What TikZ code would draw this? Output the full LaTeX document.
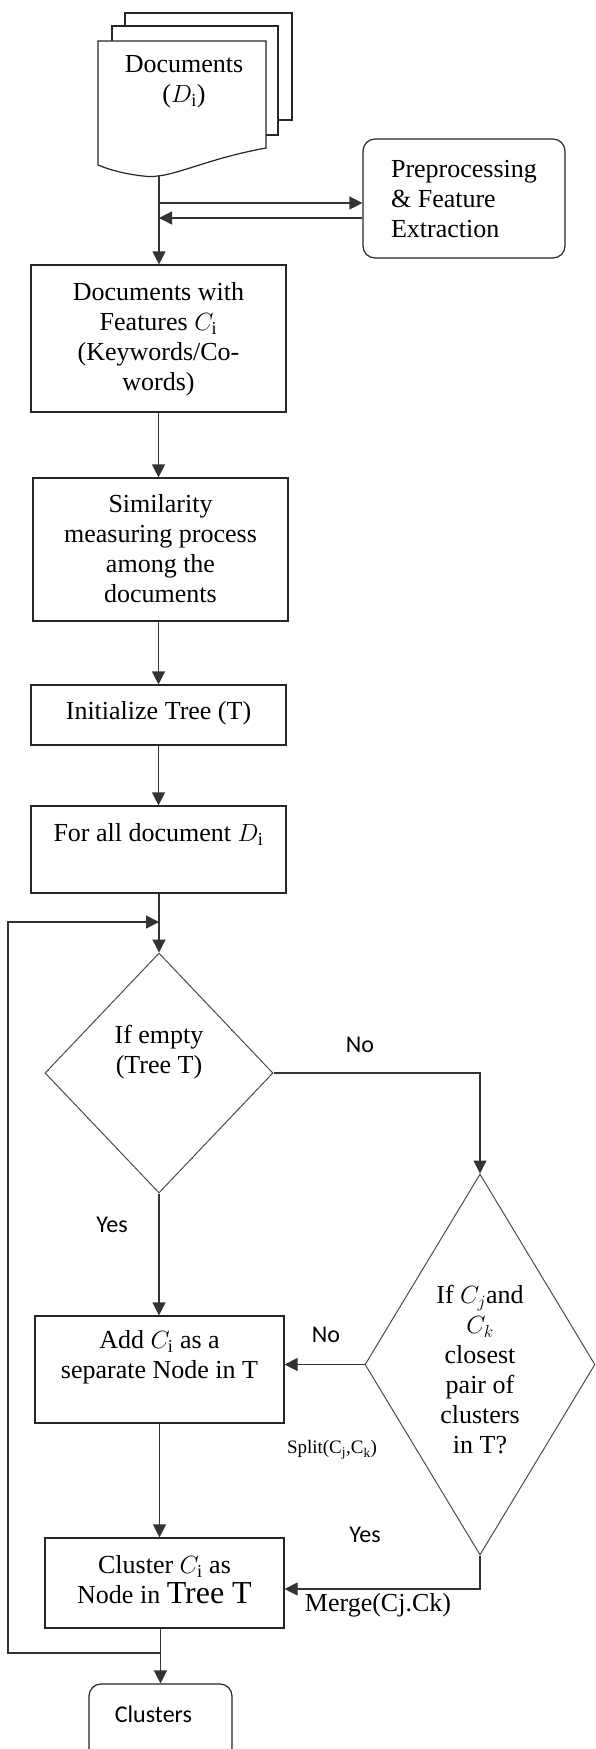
\documentclass[tikz,border=0pt]{standalone}
\usepackage{fontspec}
\setmainfont{Liberation Serif}
\newfontfamily\sansf{Carlito}
\usetikzlibrary{shapes.geometric,arrows.meta,calc}
% centred text block of zero size, lifted by #2
\newcommand{\ctext}[3][c]{\makebox[0pt]{\smash{\raisebox{#2}{\begin{tabular}{@{}#1@{}}#3\end{tabular}}}}}
\begin{document}
\begin{tikzpicture}[x=1pt,y=-1pt,
  every node/.style={font=\fontsize{26}{30}\selectfont},
  box/.style={draw=black!85, line width=1.2pt, rectangle, inner sep=0pt, fill=white},
  rbox/.style={box, rounded corners=12pt},
  dia/.style={draw=black!70, line width=1pt, diamond, inner sep=0pt},
  pg/.style={draw=black!85, line width=1.2pt, fill=white},
  arr/.style={draw=black!80, line width=1.2pt, -{Triangle[length=13pt,width=13pt]}},
  lbl/.style={font=\sansf\fontsize{24}{28}\selectfont, inner sep=0pt},
]
\fill[white] (0,0) rectangle (595,1749);
\useasboundingbox (0,0) rectangle (595,1749);

% document stack
\draw[pg] (125,13) rectangle (292,120);
\draw[pg] (112,26) rectangle (278,135);
\draw[pg] (98,41) -- (266,41) -- (266,148) .. controls (200,160) and (170,180) .. (143,176)
  .. controls (125,174) and (110,170) .. (98,165) -- cycle;
\node[inner sep=0pt] (docs) at (184,81) {\ctext{-6.5pt}{Documents\\($D_{\mathrm{i}}$)}};
\coordinate (dbot) at (159,175);

% boxes
\node[rbox, minimum width=202pt, minimum height=119pt] (prep) at (464,198.5)
  {\ctext[l]{-9.7pt}{Preprocessing\\\& Feature\\Extraction}};
\node[box, minimum width=255pt, minimum height=147pt] (box1) at (158.5,338.5)
  {\ctext{-7.2pt}{Documents with\\Features $C_{\mathrm{i}}$\\(Keywords/Co-\\words)}};
\node[box, minimum width=255pt, minimum height=143pt] (box2) at (160.5,549.5)
  {\ctext{-8pt}{Similarity\\measuring process\\among the\\documents}};
\node[box, minimum width=255pt, minimum height=60pt] (init) at (158.5,715)
  {\ctext{-4.5pt}{Initialize Tree (T)}};
\node[box, minimum width=255pt, minimum height=87pt] (forall) at (158.5,849.5)
  {\ctext{8pt}{For all document $D_{\mathrm{i}}$}};
\node[dia, minimum width=228pt, minimum height=240pt] (dec1) at (159,1073)
  {\ctext{14pt}{If empty\\(Tree T)}};
\node[dia, minimum width=230pt, minimum height=381pt] (dec2) at (480,1364.5)
  {\ctext{-14.5pt}{If $C_j$and\\$C_k$\\closest\\pair of\\clusters\\in T?}};
\node[box, minimum width=249pt, minimum height=107pt] (addbox) at (159.5,1369.5)
  {\ctext{5.5pt}{Add $C_{\mathrm{i}}$ as a\\separate Node in T}};
\node[box, minimum width=239pt, minimum height=90pt] (clusterbox) at (164.5,1583)
  {\ctext{-6pt}{Cluster $C_{\mathrm{i}}$ as\\Node in {\fontsize{32}{30}\selectfont Tree T}}};
\node[rbox, minimum width=143pt, minimum height=76pt, font=\sansf\fontsize{24}{28}\selectfont] (clusters) at (160.5,1722)
  {\ctext{-1pt}{\hspace*{-14pt}Clusters}};

% labels
\node[lbl] (no1) at (360,1045) {No};
\node[lbl] (yes1) at (112,1225) {Yes};
\node[lbl] (no2) at (326,1335) {No};
\node[lbl] (yes2) at (365,1535) {Yes};
\node[inner sep=0pt, font=\fontsize{19}{22}\selectfont] (split) at (332,1450) {Split(C\textsubscript{j},C\textsubscript{k})};
\node[inner sep=0pt] (merge) at (378,1605) {Merge(Cj.Ck)};

% connectors
\coordinate (j1) at (159,203);
\coordinate (j2) at (159,218);
\draw[arr] (dbot) -- (dbot |- box1.north);
\draw[arr] (j1) -- (j1 -| prep.west);
\draw[arr] (j2 -| prep.west) -- (j2);
\draw[arr] (box1.south) -- (box1.south |- box2.north);
\draw[arr] (init.north |- box2.south) -- (init.north);
\draw[arr] (init.south) -- (forall.north);
\draw[arr] (dec1.north |- forall.south) -- (dec1.north);
\coordinate (lj) at (159,922);
\coordinate (lt) at (8,922);
\coordinate (lb) at (8,1653);
\coordinate (cj) at (161,1653);
\draw[arr] (cj) -- (lb) -- (lt) -- (lj);
\draw[arr] (dec1.east) -| (dec2.north);
\draw[arr] (dec1.south) -- (dec1.south |- addbox.north);
\draw[arr] (dec2.west) -- (dec2.west -| addbox.east);
\draw[arr] (addbox.south) -- (addbox.south |- clusterbox.north);
\coordinate (mj) at ($(clusterbox.east)+(0,6)$);
\draw[arr] (dec2.south) |- (mj);
\draw[arr] (clusters.north |- clusterbox.south) -- (clusters.north);
\end{tikzpicture}
\end{document}
